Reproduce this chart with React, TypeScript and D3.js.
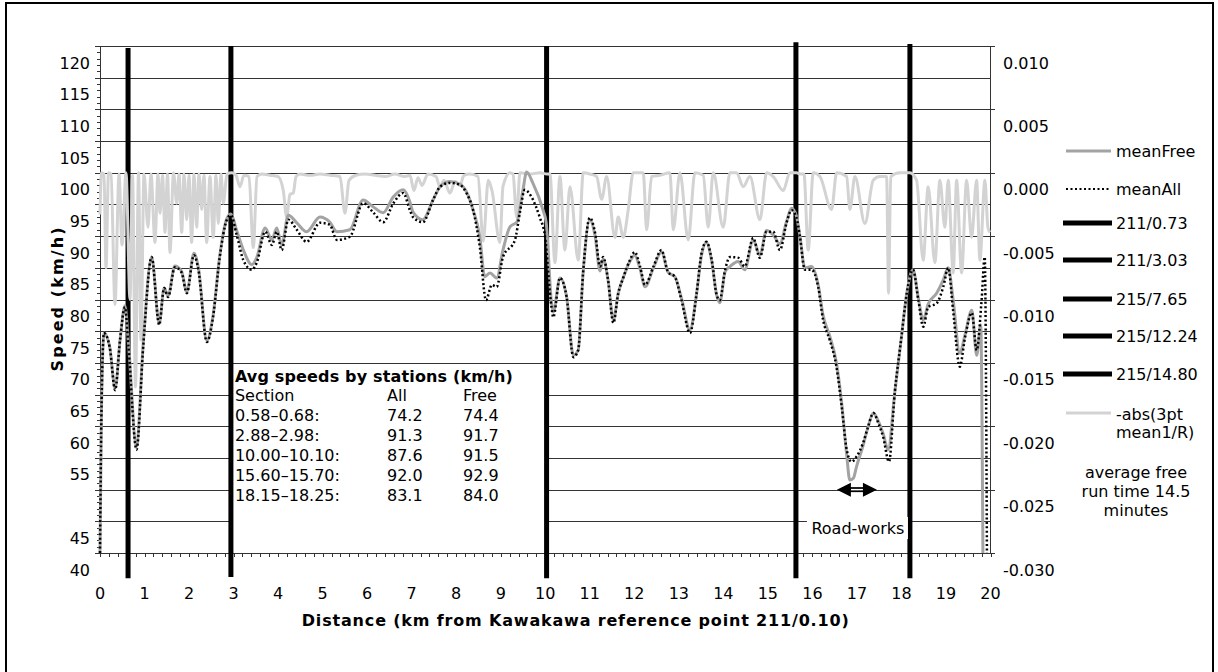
import React from 'react';
import * as d3 from 'd3';

const W = 1218;
const H = 672;

// ---- tick labels ----
const xTickLabels = [0, 1, 2, 3, 4, 5, 6, 7, 8, 9, 10, 11, 12, 13, 14, 15, 16, 17, 18, 19, 20];
const speedTickLabels = [40, 45, 55, 60, 65, 70, 75, 80, 85, 90, 95, 100, 105, 110, 115, 120];
const speedGridValues = [45, 50, 55, 60, 65, 70, 75, 80, 85, 90, 95, 100, 105, 110, 115, 120];
const curvTickLabels = [0.01, 0.005, 0, -0.005, -0.01, -0.015, -0.02, -0.025, -0.03];

// ---- stations ----
const stationKm = [0.63, 2.94, 10.03, 15.63, 18.19];
const stationNames = ['211/0.73', '211/3.03', '215/7.65', '215/12.24', '215/14.80'];
const stationTop = [119.7, 120, 120, 120.6, 120.3];
const stationBottom = [36, 36.2, 36, 36, 36];

// ---- table ----
const tableSections = ['0.58\u20130.68:', '2.88\u20132.98:', '10.00\u201310.10:', '15.60\u201315.70:', '18.15\u201318.25:'];
const tableAll = ['74.2', '91.3', '87.6', '92.0', '83.1'];
const tableFree = ['74.4', '91.7', '91.5', '92.9', '84.0'];

// ---- series: [km, km/h] ----
const meanAll: [number, number][] = [
  [0.0, 40.0], [0.03, 61.0], [0.09, 74.7], [0.22, 72.4], [0.34, 65.7], [0.45, 73.6], [0.56, 78.8], [0.64, 72.5],
  [0.82, 56.3], [0.97, 72.5], [1.16, 86.7], [1.33, 76.0], [1.44, 81.8], [1.53, 80.4], [1.68, 85.1], [1.83, 84.3],
  [1.95, 81.0], [2.11, 87.0], [2.21, 84.7], [2.4, 73.3], [2.54, 77.3], [2.69, 86.7], [2.85, 92.6], [2.94, 93.3],
  [3.07, 90.2], [3.22, 86.2], [3.41, 84.7], [3.52, 85.8], [3.71, 90.7], [3.86, 88.6], [3.97, 90.7], [4.08, 87.8],
  [4.23, 92.6], [4.42, 91.0], [4.64, 89.1], [4.94, 92.1], [5.16, 91.8], [5.32, 89.4], [5.61, 89.9], [5.91, 95.2],
  [6.14, 93.7], [6.36, 92.2], [6.59, 95.2], [6.81, 96.8], [6.96, 94.1], [7.03, 93.0], [7.25, 92.2], [7.48, 95.7],
  [7.64, 97.8], [7.86, 98.4], [8.08, 98.1], [8.23, 96.8], [8.38, 94.1], [8.53, 88.3], [8.67, 79.9], [8.8, 82.3],
  [8.91, 82.0], [9.05, 86.7], [9.32, 89.4], [9.43, 93.7], [9.54, 97.3], [9.69, 96.2], [9.88, 92.9], [9.99, 90.2],
  [10.14, 78.8], [10.18, 77.2], [10.33, 83.4], [10.48, 80.4], [10.63, 70.9], [10.74, 72.0], [10.85, 84.2], [11.0, 92.9],
  [11.12, 90.5], [11.23, 85.2], [11.3, 86.7], [11.41, 83.1], [11.53, 76.3], [11.64, 81.0], [11.75, 83.4], [11.9, 86.2],
  [12.01, 87.5], [12.13, 85.2], [12.24, 82.3], [12.43, 85.2], [12.61, 87.8], [12.76, 84.3], [12.91, 83.6], [13.06, 79.9],
  [13.25, 74.7], [13.4, 81.0], [13.51, 87.3], [13.62, 89.1], [13.74, 86.2], [13.85, 80.7], [13.92, 79.9], [14.04, 84.7],
  [14.15, 86.7], [14.33, 86.6], [14.48, 85.2], [14.67, 89.7], [14.82, 86.6], [14.97, 90.7], [15.12, 90.7], [15.27, 87.8],
  [15.42, 92.1], [15.53, 94.1], [15.64, 93.0], [15.72, 89.9], [15.83, 84.7], [15.98, 84.7], [16.13, 82.0], [16.24, 76.8],
  [16.39, 73.6], [16.54, 69.4], [16.66, 63.0], [16.77, 56.3], [16.88, 54.4], [16.99, 55.2], [17.14, 57.4], [17.25, 59.9],
  [17.37, 62.1], [17.48, 60.5], [17.59, 58.3], [17.72, 54.4], [17.85, 65.3], [18.0, 74.1], [18.12, 81.0], [18.26, 84.7],
  [18.38, 79.9], [18.49, 75.7], [18.6, 78.8], [18.79, 79.4], [18.94, 82.0], [19.05, 85.0], [19.16, 78.3], [19.31, 69.4],
  [19.43, 74.1], [19.58, 77.9], [19.69, 72.0], [19.8, 79.9], [19.87, 86.7], [19.92, 40.0],
];

const meanFree: [number, number][] = [
  [0.0, 40.0], [0.03, 61.0], [0.09, 74.7], [0.22, 72.4], [0.34, 66.0], [0.45, 73.6], [0.56, 79.0], [0.64, 73.0],
  [0.82, 56.8], [0.97, 73.0], [1.16, 86.7], [1.33, 76.2], [1.44, 81.8], [1.53, 80.6], [1.68, 85.3], [1.83, 84.5],
  [1.95, 81.2], [2.11, 87.3], [2.21, 85.0], [2.4, 73.5], [2.54, 77.5], [2.69, 86.9], [2.85, 92.8], [2.94, 93.5],
  [3.07, 90.9], [3.22, 87.8], [3.41, 85.5], [3.52, 86.6], [3.71, 91.3], [3.86, 89.4], [3.97, 91.3], [4.08, 88.6],
  [4.23, 93.3], [4.42, 92.1], [4.64, 90.7], [4.94, 93.0], [5.16, 92.2], [5.32, 90.7], [5.61, 91.0], [5.91, 95.7],
  [6.14, 94.6], [6.36, 93.7], [6.59, 96.2], [6.81, 97.3], [6.96, 95.4], [7.03, 93.8], [7.25, 92.6], [7.48, 95.7],
  [7.64, 97.8], [7.86, 98.6], [8.08, 98.2], [8.23, 97.0], [8.38, 94.1], [8.53, 89.9], [8.64, 83.6], [8.76, 84.2],
  [8.91, 83.4], [9.05, 87.8], [9.21, 91.5], [9.36, 92.2], [9.5, 97.3], [9.58, 100.1], [9.72, 98.4], [9.95, 94.1],
  [10.02, 92.2], [10.14, 79.5], [10.18, 78.0], [10.33, 83.4], [10.48, 80.4], [10.63, 71.2], [10.74, 72.0], [10.85, 84.2],
  [11.0, 92.6], [11.12, 90.0], [11.23, 84.5], [11.3, 86.4], [11.41, 83.1], [11.53, 76.8], [11.64, 81.0], [11.75, 83.4],
  [11.9, 86.0], [12.01, 87.0], [12.13, 84.8], [12.24, 82.0], [12.43, 85.0], [12.61, 87.5], [12.76, 84.3], [12.91, 83.6],
  [13.06, 80.2], [13.25, 75.2], [13.4, 81.0], [13.51, 87.0], [13.62, 89.0], [13.74, 86.0], [13.85, 80.7], [13.92, 79.5],
  [14.04, 84.4], [14.15, 85.2], [14.33, 86.0], [14.48, 84.7], [14.67, 89.4], [14.82, 87.0], [14.97, 90.9], [15.12, 90.2],
  [15.27, 88.8], [15.42, 92.3], [15.53, 94.4], [15.64, 93.2], [15.72, 90.0], [15.83, 85.0], [15.98, 85.2], [16.13, 82.3],
  [16.24, 77.5], [16.39, 74.2], [16.54, 70.0], [16.66, 63.5], [16.77, 55.5], [16.84, 51.5], [16.92, 51.8], [16.99, 53.6],
  [17.14, 57.0], [17.25, 59.9], [17.37, 62.1], [17.48, 60.8], [17.59, 58.8], [17.7, 56.3], [17.85, 65.3], [18.0, 74.1],
  [18.12, 81.0], [18.26, 84.7], [18.38, 80.2], [18.49, 76.8], [18.6, 79.3], [18.79, 81.0], [18.94, 83.1], [19.05, 85.0],
  [19.16, 80.0], [19.31, 71.5], [19.43, 74.5], [19.58, 78.3], [19.69, 71.2], [19.78, 76.0], [19.83, 40.0],
];

// ---- series: [km, -abs(3pt mean 1/R)] (right axis) ----
const curvature: [number, number][] = [
  [0.0, -0.0033], [0.034, 0], [0.09, -0.0001], [0.135, -0.0075], [0.191, 0], [0.247, -0.0001], [0.337, -0.0104],
  [0.427, -0.0001], [0.494, -0.0057], [0.584, 0], [0.674, -0.01], [0.73, -0.0002], [0.797, -0.0169], [0.865, 0],
  [0.921, -0.0132], [0.988, -0.0001], [1.078, -0.0043], [1.145, -0.0001], [1.235, -0.0055], [1.302, -0.0001],
  [1.347, -0.0032], [1.404, -0.0002], [1.46, -0.0047], [1.516, -0.0001], [1.572, -0.0063], [1.651, 0],
  [1.722, -0.0024], [1.774, -0.0001], [1.835, -0.0047], [1.886, -0.0001], [1.947, -0.0037], [1.999, -0.0002],
  [2.059, -0.0055], [2.111, -0.0001], [2.171, -0.0043], [2.223, -0.0001], [2.284, -0.0029], [2.335, -0.0002],
  [2.396, -0.0055], [2.47, -0.0003], [2.544, -0.0051], [2.605, -0.0002], [2.657, -0.004], [2.717, -0.0001],
  [2.769, -0.0024], [2.852, -0.0001], [2.964, 0],
  [3.054, -0.0002], [3.144, -0.0011], [3.234, -0.0002], [3.346, -0.0003], [3.443, -0.0059], [3.526, -0.0003],
  [3.638, -0.0001], [3.818, -0.0002], [3.997, -0.0003], [4.116, -0.0014], [4.193, -0.0035], [4.267, -0.0017],
  [4.341, -0.0016], [4.402, -0.0003], [4.491, -0.0001], [4.716, -0.0002], [4.94, -0.0001], [5.165, -0.0002],
  [5.39, -0.0003], [5.502, -0.0032], [5.592, -0.0006], [5.749, -0.0002], [5.951, -0.0001], [6.176, -0.0002],
  [6.4, -0.0003], [6.625, -0.0001], [6.849, -0.0003], [6.962, -0.0002], [7.051, -0.0014], [7.141, -0.0004],
  [7.231, -0.001], [7.366, -0.0001], [7.545, -0.0003], [7.635, -0.0011], [7.725, -0.0006], [7.86, -0.0016],
  [7.972, -0.0007], [8.084, -0.001], [8.174, -0.0002], [8.309, -0.0001], [8.489, -0.0003], [8.608, -0.0054],
  [8.72, -0.0006], [8.803, -0.0014], [8.983, -0.0055], [9.05, -0.0011], [9.207, 0], [9.275, -0.0001],
  [9.358, -0.0035], [9.432, 0], [9.657, -0.0001], [9.881, 0], [10.038, -0.0001],
  [10.105, -0.0001], [10.218, -0.0071], [10.33, -0.0003], [10.442, -0.0061], [10.555, -0.0011], [10.741, -0.0069],
  [10.853, 0], [11.004, -0.0001], [11.154, -0.0003], [11.267, -0.0021], [11.379, -0.0003], [11.565, -0.0051],
  [11.639, -0.0035], [11.752, -0.0051], [11.864, -0.0029], [11.976, 0], [12.201, 0], [12.277, -0.0045],
  [12.389, -0.0003], [12.576, -0.0002], [12.8, 0], [12.875, -0.0045], [13.025, 0], [13.211, -0.0053],
  [13.362, 0], [13.548, -0.0002], [13.66, -0.0043], [13.773, 0], [13.997, -0.0043], [14.148, 0], [14.298, 0],
  [14.446, -0.0011], [14.597, -0.0003], [14.821, -0.0037], [14.972, 0], [15.12, -0.0003], [15.345, -0.0014],
  [15.495, 0], [15.645, 0],
  [15.72, -0.0001], [15.81, -0.0001], [15.906, -0.0061], [16.018, 0], [16.169, -0.0003], [16.431, -0.0029],
  [16.544, 0], [16.768, -0.0003], [16.842, -0.0029], [16.955, -0.0003], [17.179, -0.004], [17.366, -0.0006],
  [17.516, -0.0003], [17.667, -0.0003], [17.71, -0.0095], [17.76, -0.0003], [17.965, 0], [18.19, 0],
  [18.34, -0.0006], [18.488, -0.0069], [18.6, -0.0011], [18.751, -0.0071], [18.863, -0.0006], [18.976, -0.0043],
  [19.05, -0.0006], [19.162, -0.0079], [19.239, -0.0006], [19.351, -0.0079], [19.463, -0.0006], [19.575, -0.0051],
  [19.688, -0.0006], [19.762, -0.0069], [19.874, -0.0006], [19.941, -0.0043], [19.985, -0.0047],
];

const FONT = '"DejaVu Sans", Verdana, sans-serif';

export default function App() {
  const x = d3.scaleLinear().domain([0, 20]).range([100, 990.5]);
  const y = d3.scaleLinear().domain([40, 120]).range([553, 46]);
  const yR = d3.scaleLinear().domain([-0.03, 0.01]).range([553, 46]);

  const meanLine = d3
    .line<[number, number]>()
    .x((d) => x(d[0]))
    .y((d) => y(d[1]))
    .curve(d3.curveMonotoneX);
  const curvLine = d3
    .line<[number, number]>()
    .x((d) => x(d[0]))
    .y((d) => yR(d[1]))
    .curve(d3.curveMonotoneX);

  const crisp = (v: number) => Math.round(v) + 0.5;
  const minorSpeed = d3.range(40, 121, 1);
  const minorX = d3.range(0, 20.01, 0.2);

  const legendRows = [
    { y: 151, label: 'meanFree', kind: 'free' },
    { y: 189, label: 'meanAll', kind: 'all' },
    ...stationNames.map((n, i) => ({ y: [223, 260, 299, 336, 374][i], label: n, kind: 'station' })),
  ];

  const tableLeft = x(stationKm[1]) + 4;
  const colAll = 387;
  const colFree = 463;
  const rowBase = [421, 441, 461, 481, 500.5];

  const arrowY = y(50);
  const arrowL = x(16.55);
  const arrowR = x(17.45);

  return (
    <svg
      width={W}
      height={H}
      viewBox={`0 0 ${W} ${H}`}
      style={{ position: 'absolute', left: 0, top: 0, background: '#fff' }}
      fontFamily={FONT}
    >
      <rect x={0} y={0} width={W} height={H} fill="#fff" />
      {/* frame */}
      <rect x={6} y={3} width={1207} height={700} fill="none" stroke="#000" strokeWidth={2} />

      {/* gridlines */}
      {speedGridValues.map((v) => (
        <line key={'g' + v} x1={100} x2={990.5} y1={crisp(y(v))} y2={crisp(y(v))} stroke="#333" strokeWidth={1} />
      ))}

      {/* table white box */}
      <rect x={x(stationKm[1])} y={y(69.7)} width={x(stationKm[2]) - x(stationKm[1])} height={y(40) - y(69.7)} fill="#fff" />

      {/* axes */}
      <line x1={100.5} x2={100.5} y1={46} y2={553} stroke="#333" />
      <line x1={990.5} x2={990.5} y1={46} y2={553} stroke="#333" />
      <line x1={100} x2={990.5} y1={553.5} y2={553.5} stroke="#333" />
      {minorSpeed.map((v) => (
        <line
          key={'ms' + v}
          x1={v % 5 === 0 ? 95 : 97}
          x2={100}
          y1={crisp(y(v))}
          y2={crisp(y(v))}
          stroke="#333"
        />
      ))}
      {minorX.map((k, i) => (
        <line key={'mx' + i} x1={crisp(x(k))} x2={crisp(x(k))} y1={553} y2={557} stroke="#333" />
      ))}
      {curvTickLabels.map((c) => (
        <line key={'rt' + c} x1={990} x2={995} y1={crisp(yR(c))} y2={crisp(yR(c))} stroke="#333" />
      ))}

      {/* tick labels */}
      {speedTickLabels.map((v) => (
        <text key={'sl' + v} x={90} y={y(v) + 17} fontSize={16} textAnchor="end" dominantBaseline="central">
          {v}
        </text>
      ))}
      {curvTickLabels.map((c) => (
        <text key={'cl' + c} x={1003} y={yR(c) + 17} fontSize={16} dominantBaseline="central">
          {d3.format('.3f')(c).replace('\u2212', '-')}
        </text>
      ))}
      {xTickLabels.map((k) => (
        <text key={'xl' + k} x={x(k)} y={593} fontSize={16} textAnchor="middle" dominantBaseline="central">
          {k}
        </text>
      ))}

      {/* axis titles */}
      <text
        transform={`translate(57, ${(46 + 553) / 2}) rotate(-90)`}
        fontSize={16}
        fontWeight="bold"
        textAnchor="middle"
        dominantBaseline="central"
        textLength={144}
        lengthAdjust="spacing"
      >
        Speed (km/h)
      </text>
      <text
        x={(100 + 990.5) / 2 + 30}
        y={620}
        fontSize={16}
        fontWeight="bold"
        textAnchor="middle"
        dominantBaseline="central"
        textLength={547}
        lengthAdjust="spacing"
      >
        Distance (km from Kawakawa reference point 211/0.10)
      </text>

      {/* station lines */}
      {stationKm.map((k, i) => (
        <line key={'st' + i} x1={x(k)} x2={x(k)} y1={y(stationTop[i])} y2={y(stationBottom[i])} stroke="#000" strokeWidth={5} />
      ))}

      {/* curvature */}
      <path d={curvLine(curvature) || ''} fill="none" stroke="#d3d3d3" strokeWidth={3} strokeLinejoin="round" />

      {/* means */}
      <path d={meanLine(meanFree) || ''} fill="none" stroke="#a3a3a3" strokeWidth={3} strokeLinejoin="round" />
      <path d={meanLine(meanAll) || ''} fill="none" stroke="#000" strokeWidth={2.5} strokeDasharray="2 2.4" />

      {/* table */}
      <text x={tableLeft} y={382} fontSize={16} fontWeight="bold" textLength={278} lengthAdjust="spacing">
        Avg speeds by stations (km/h)
      </text>
      <text x={tableLeft} y={401} fontSize={16}>Section</text>
      <text x={colAll} y={401} fontSize={16}>All</text>
      <text x={colFree} y={401} fontSize={16}>Free</text>
      {tableSections.map((s, i) => (
        <g key={'tr' + i}>
          <text x={tableLeft} y={rowBase[i]} fontSize={16}>{s}</text>
          <text x={colAll} y={rowBase[i]} fontSize={16}>{tableAll[i]}</text>
          <text x={colFree} y={rowBase[i]} fontSize={16}>{tableFree[i]}</text>
        </g>
      ))}

      {/* road-works */}
      <line x1={arrowL + 12} x2={arrowR - 12} y1={arrowY} y2={arrowY} stroke="#000" strokeWidth={5} />
      <line x1={arrowL + 14} x2={arrowR - 14} y1={arrowY} y2={arrowY} stroke="#fff" strokeWidth={1.5} />
      <path d={`M${arrowL},${arrowY} L${arrowL + 14},${arrowY - 7} L${arrowL + 14},${arrowY + 7} Z`} fill="#000" />
      <path d={`M${arrowR},${arrowY} L${arrowR - 14},${arrowY - 7} L${arrowR - 14},${arrowY + 7} Z`} fill="#000" />
      <rect x={x(17.0) - 50} y={517} width={101} height={22} fill="#fff" />
      <text x={x(17.0) + 1} y={528} fontSize={16} textAnchor="middle" dominantBaseline="central">
        Road-works
      </text>

      {/* legend */}
      {legendRows.map((r) => (
        <g key={'lg' + r.label}>
          {r.kind === 'free' && <line x1={1066} x2={1111} y1={r.y} y2={r.y} stroke="#a3a3a3" strokeWidth={3} />}
          {r.kind === 'all' && (
            <line x1={1066} x2={1111} y1={r.y} y2={r.y} stroke="#000" strokeWidth={2} strokeDasharray="2 2.5" />
          )}
          {r.kind === 'station' && <line x1={1063} x2={1112} y1={r.y} y2={r.y} stroke="#000" strokeWidth={5} />}
          <text x={1116} y={r.y} fontSize={16} dominantBaseline="central">
            {r.label}
          </text>
        </g>
      ))}
      <line x1={1066} x2={1111} y1={413} y2={413} stroke="#d3d3d3" strokeWidth={3} />
      <text x={1116} y={420} fontSize={16}>-abs(3pt</text>
      <text x={1116} y={438} fontSize={16}>mean1/R)</text>
      <text x={1136} y={478} fontSize={16} textAnchor="middle">average free</text>
      <text x={1136} y={497} fontSize={16} textAnchor="middle">run time 14.5</text>
      <text x={1136} y={516} fontSize={16} textAnchor="middle">minutes</text>
    </svg>
  );
}
